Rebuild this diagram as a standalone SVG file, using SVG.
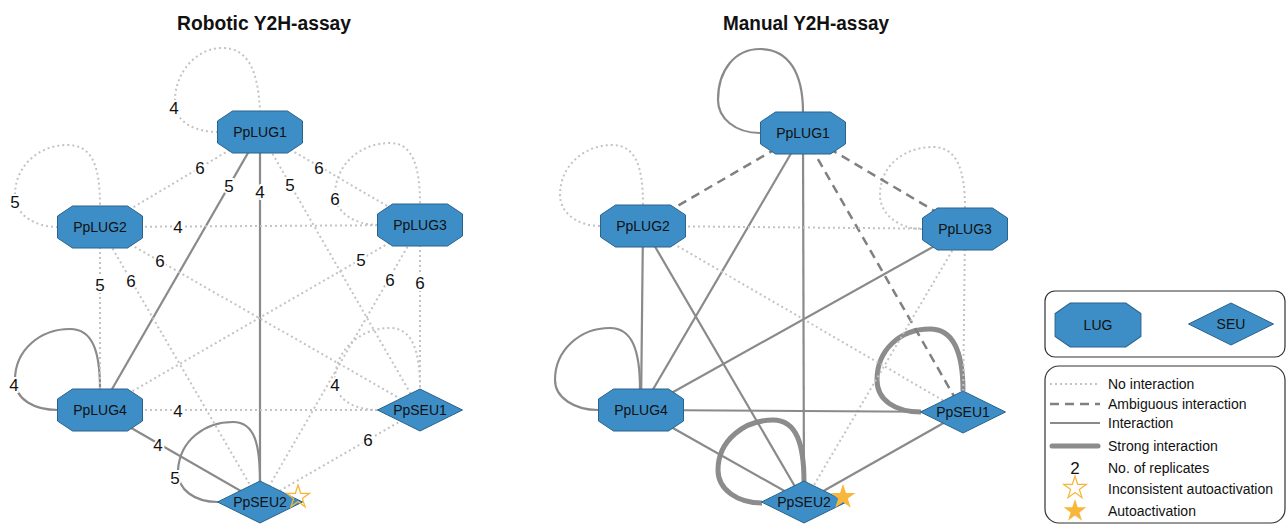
<svg xmlns="http://www.w3.org/2000/svg" xmlns:xlink="http://www.w3.org/1999/xlink" width="1287" height="525" viewBox="0 0 1287 525">
<style>
.dot{fill:none;stroke:#c3c3c3;stroke-width:2;stroke-dasharray:2 3}
.sol{fill:none;stroke:#8a8a8a;stroke-width:2.2}
.dash{fill:none;stroke:#808080;stroke-width:2.5;stroke-dasharray:9 6}
.strong{fill:none;stroke:#8c8c8c;stroke-width:5}
.node{fill:#3d8ec6;stroke:#2b628b;stroke-width:1}
.nl{font-family:"Liberation Sans",Arial,sans-serif;font-size:14px;fill:#111;text-anchor:middle}
.el{font-family:"Liberation Sans",Arial,sans-serif;font-size:17px;fill:#111;text-anchor:middle;dominant-baseline:central;stroke:#fff;stroke-width:4;paint-order:stroke}
.title{font-family:"Liberation Sans",Arial,sans-serif;font-size:20px;font-weight:bold;fill:#111;text-anchor:middle}
.lt{font-family:"Liberation Sans",Arial,sans-serif;font-size:14px;fill:#111}
.num{font-family:"Liberation Sans",Arial,sans-serif;font-size:17px;fill:#111;text-anchor:middle}
.box{fill:#fff;stroke:#333;stroke-width:1.2}
</style>
<defs>
<polygon id="oct" points="-27.5,-21 27.5,-21 42.5,-11 42.5,11 27.5,21 -27.5,21 -42.5,11 -42.5,-11"/>
<polygon id="dia" points="-42.5,0 0,-21 42.5,0 0,21"/>
<polygon id="star" points="0,-12 2.69,-3.71 11.41,-3.71 4.36,1.42 7.05,9.71 0,4.58 -7.05,9.71 -4.36,1.42 -11.41,-3.71 -2.69,-3.71"/>
</defs>
<rect width="1287" height="525" fill="#fff"/>

<text class="title" x="264" y="30" textLength="174" lengthAdjust="spacingAndGlyphs">Robotic Y2H-assay</text>
<text class="title" x="806" y="30" textLength="166" lengthAdjust="spacingAndGlyphs">Manual Y2H-assay</text>

<!-- Robotic connectors -->
<g id="connectors-robotic">
<path class="dot" d="M218,132 C195,132 176,122 175,105 C173,75 195,48 222,48 C248,48 258,70 260,111"/>
<path class="dot" d="M58,227 C35,227 15,215 15,195 C15,165 40,145 67,145 C92,145 100,165 100,206"/>
<path class="dot" d="M378,225 C355,225 335,212 335,195 C335,165 360,143 390,143 C412,143 420,165 420,204"/>
<path class="sol" d="M58,410 C35,410 15,400 15,380 C15,350 40,329 70,329 C92,329 100,350 100,389"/>
<path class="dot" d="M378,410 C355,410 335,400 335,380 C335,350 360,328 390,328 C412,328 420,350 420,389"/>
<path class="sol" d="M218,502 C195,502 177,490 178,470 C180,440 205,422 233,422 C255,422 260,445 260,482"/>
<line class="dot" x1="260" y1="132" x2="100" y2="227"/>
<line class="dot" x1="260" y1="132" x2="420" y2="225"/>
<line class="sol" x1="260" y1="132" x2="100" y2="410"/>
<line class="dot" x1="260" y1="132" x2="420" y2="410"/>
<line class="sol" x1="260" y1="132" x2="260" y2="502"/>
<line class="dot" x1="100" y1="227" x2="420" y2="225"/>
<line class="dot" x1="100" y1="227" x2="100" y2="410"/>
<line class="dot" x1="100" y1="227" x2="420" y2="410"/>
<line class="dot" x1="100" y1="227" x2="260" y2="502"/>
<line class="dot" x1="420" y1="225" x2="100" y2="410"/>
<line class="dot" x1="420" y1="225" x2="420" y2="410"/>
<line class="dot" x1="420" y1="225" x2="260" y2="502"/>
<line class="dot" x1="100" y1="410" x2="420" y2="410"/>
<line class="sol" x1="100" y1="410" x2="260" y2="502"/>
<line class="dot" x1="420" y1="410" x2="260" y2="502"/>
<text class="el" x="174" y="108">4</text>
<text class="el" x="15" y="202">5</text>
<text class="el" x="335" y="199">6</text>
<text class="el" x="14" y="385">4</text>
<text class="el" x="335" y="385">4</text>
<text class="el" x="175" y="478">5</text>
<text class="el" x="200" y="168">6</text>
<text class="el" x="319" y="168">6</text>
<text class="el" x="229" y="186">5</text>
<text class="el" x="290" y="185">5</text>
<text class="el" x="260" y="192">4</text>
<text class="el" x="178" y="227">4</text>
<text class="el" x="100" y="285">5</text>
<text class="el" x="160" y="261">6</text>
<text class="el" x="131" y="281">6</text>
<text class="el" x="361" y="260">5</text>
<text class="el" x="420" y="283">6</text>
<text class="el" x="390" y="280">6</text>
<text class="el" x="178" y="411">4</text>
<text class="el" x="158" y="445">4</text>
<text class="el" x="368" y="440">6</text>
</g>

<!-- Manual connectors -->
<g id="connectors-manual">
<path class="sol" d="M760,133 C735,133 718,118 718,100 C718,70 735,49 760,49 C790,49 803,75 803,112"/>
<path class="dot" d="M600,226 C578,226 560,213 560,195 C560,165 585,145 612,145 C635,145 643,165 643,205"/>
<path class="dot" d="M922,229 C900,229 880,215 880,195 C880,165 905,147 933,147 C957,147 965,170 965,208"/>
<path class="sol" d="M598,410 C575,410 555,398 555,380 C555,350 580,328 610,328 C632,328 640,350 640,389"/>
<path class="strong" d="M921,412 C895,412 877,400 877,380 C877,350 900,329 930,329 C955,329 963,355 963,391"/>
<path class="strong" d="M762,503 C738,503 718,490 718,470 C718,440 745,420 773,420 C797,420 804,445 804,482"/>
<line class="dash" x1="803" y1="133" x2="643" y2="226"/>
<line class="dash" x1="803" y1="133" x2="965" y2="229"/>
<line class="sol" x1="803" y1="133" x2="641" y2="410"/>
<line class="dash" x1="803" y1="133" x2="963" y2="412"/>
<line class="sol" x1="803" y1="133" x2="804" y2="502"/>
<line class="dot" x1="643" y1="226" x2="965" y2="229"/>
<line class="sol" x1="643" y1="226" x2="641" y2="410"/>
<line class="dot" x1="643" y1="226" x2="963" y2="412"/>
<line class="sol" x1="643" y1="226" x2="804" y2="502"/>
<line class="sol" x1="965" y1="229" x2="641" y2="410"/>
<line class="dot" x1="965" y1="229" x2="963" y2="412"/>
<line class="dot" x1="965" y1="229" x2="804" y2="502"/>
<line class="sol" x1="641" y1="410" x2="963" y2="412"/>
<line class="sol" x1="641" y1="410" x2="804" y2="502"/>
<line class="sol" x1="963" y1="412" x2="804" y2="502"/>
</g>

<!-- Robotic nodes -->
<g id="r-PpLUG1"><use href="#oct" class="node" transform="translate(260,132)"/><text class="nl" x="260" y="137">PpLUG1</text></g>
<g id="r-PpLUG2"><use href="#oct" class="node" transform="translate(100,227)"/><text class="nl" x="100" y="232">PpLUG2</text></g>
<g id="r-PpLUG3"><use href="#oct" class="node" transform="translate(420,225)"/><text class="nl" x="420" y="230">PpLUG3</text></g>
<g id="r-PpLUG4"><use href="#oct" class="node" transform="translate(100,410)"/><text class="nl" x="100" y="415">PpLUG4</text></g>
<g id="r-PpSEU1"><use href="#dia" class="node" transform="translate(420,410)"/><text class="nl" x="420" y="415">PpSEU1</text></g>
<g id="r-PpSEU2"><use href="#dia" class="node" transform="translate(260,502)"/><text class="nl" x="260" y="507">PpSEU2</text>
<use href="#star" transform="translate(298,497)" fill="none" stroke="#f5b73a" stroke-width="1.3"/></g>

<!-- Manual nodes -->
<g id="m-PpLUG1"><use href="#oct" class="node" transform="translate(803,133)"/><text class="nl" x="803" y="138">PpLUG1</text></g>
<g id="m-PpLUG2"><use href="#oct" class="node" transform="translate(643,226)"/><text class="nl" x="643" y="231">PpLUG2</text></g>
<g id="m-PpLUG3"><use href="#oct" class="node" transform="translate(965,229)"/><text class="nl" x="965" y="234">PpLUG3</text></g>
<g id="m-PpLUG4"><use href="#oct" class="node" transform="translate(641,410)"/><text class="nl" x="641" y="415">PpLUG4</text></g>
<g id="m-PpSEU1"><use href="#dia" class="node" transform="translate(963,412)"/><text class="nl" x="963" y="417">PpSEU1</text></g>
<g id="m-PpSEU2"><use href="#dia" class="node" transform="translate(804,502)"/><text class="nl" x="804" y="507">PpSEU2</text>
<use href="#star" transform="translate(843,497) scale(1.1)" fill="#f8b73b"/></g>

<!-- Legend -->
<g id="legend-nodes">
<rect class="box" x="1045" y="291" width="240" height="66" rx="10"/>
<use href="#oct" class="node" transform="translate(1098,325) scale(1.01,1.05)"/>
<text class="nl" x="1098" y="330">LUG</text>
<use href="#dia" class="node" transform="translate(1231,324)"/>
<text class="nl" x="1231" y="329">SEU</text>
</g>
<g id="legend-lines">
<rect class="box" x="1045" y="366" width="240" height="157" rx="14"/>
<line class="dot" x1="1050" y1="384" x2="1100" y2="384"/>
<line class="dash" x1="1050" y1="404" x2="1100" y2="404"/>
<line class="sol" x1="1050" y1="423" x2="1100" y2="423"/>
<line class="strong" x1="1052" y1="446" x2="1098" y2="446" stroke-linecap="round"/>
<text class="num" x="1075" y="474">2</text>
<use href="#star" transform="translate(1075,488)" fill="none" stroke="#f5b73a" stroke-width="1.2"/>
<use href="#star" transform="translate(1075,511)" fill="#f8b73b"/>
<text class="lt" x="1108" y="389">No interaction</text>
<text class="lt" x="1108" y="409">Ambiguous interaction</text>
<text class="lt" x="1108" y="428">Interaction</text>
<text class="lt" x="1108" y="451">Strong interaction</text>
<text class="lt" x="1108" y="473">No. of replicates</text>
<text class="lt" x="1108" y="494">Inconsistent autoactivation</text>
<text class="lt" x="1108" y="516">Autoactivation</text>
</g>
</svg>
